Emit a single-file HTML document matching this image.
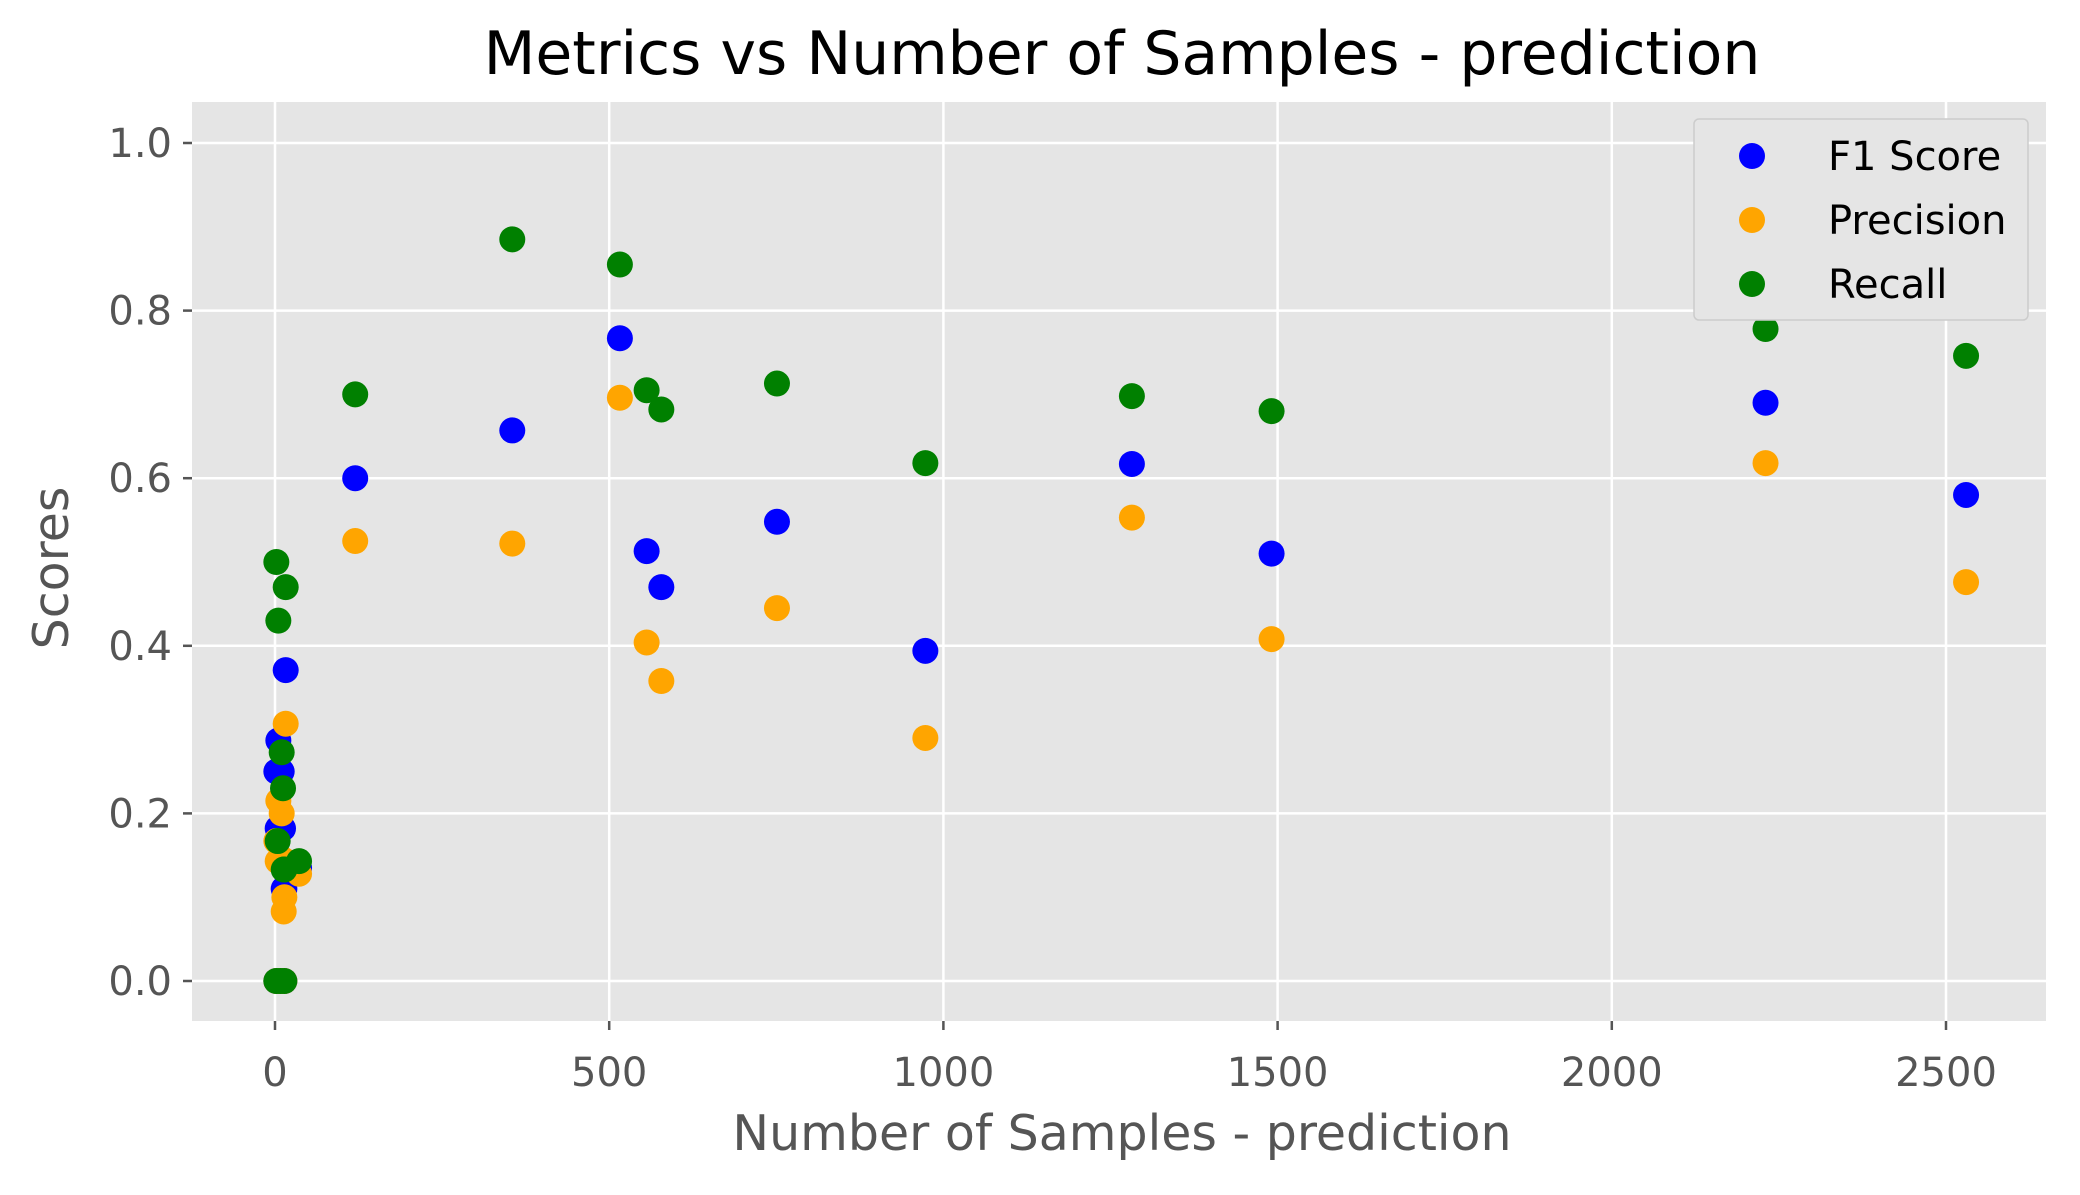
<!DOCTYPE html>
<html><head><meta charset="utf-8"><style>
body{margin:0;background:#fff;}
svg text{font-family:"DejaVu Sans","Liberation Sans",sans-serif;}
</style></head><body>
<svg id="chart" width="2080" height="1190" xmlns="http://www.w3.org/2000/svg">
<rect x="0" y="0" width="2080" height="1190" fill="#fff"/>
<rect x="192" y="102" width="1854" height="919" fill="#e5e5e5"/>
<g id="grid"></g>
<g id="ticks"></g>
<g id="points"></g>
<text x="1122" y="74" font-size="60" text-anchor="middle" fill="#000">Metrics vs Number of Samples - prediction</text>
<text x="1122" y="1150" font-size="49" text-anchor="middle" fill="#555">Number of Samples - prediction</text>
<text x="0" y="0" font-size="49" text-anchor="middle" fill="#555" transform="translate(68,568) rotate(-90)">Scores</text>
<g>
<rect x="1694" y="119" width="334" height="201" rx="5" fill="#e5e5e5" stroke="#ccc" stroke-width="1.5"/>
<circle cx="1752" cy="156" r="13" fill="blue"/>
<text x="1828" y="170" font-size="40" fill="#000">F1 Score</text>
<circle cx="1752" cy="220" r="13" fill="orange"/>
<text x="1828" y="234" font-size="40" fill="#000">Precision</text>
<circle cx="1752" cy="284" r="13" fill="green"/>
<text x="1828" y="298" font-size="40" fill="#000">Recall</text>
</g>
</svg>
<script>
const samples = [2,5,16,10,12,4,36,14,13,2,8,14,120,355,516,556,578,751,973,1282,1491,2230,2530];
const f1 = [0.25,0.287,0.371,0.25,0.182,0.182,0.135,0.11,0.11,0,0,0,0.6,0.657,0.767,0.513,0.47,0.548,0.394,0.617,0.51,0.69,0.58];
const precision = [0.167,0.215,0.307,0.2,0.145,0.143,0.128,0.1,0.083,0,0,0,0.525,0.522,0.696,0.404,0.358,0.445,0.29,0.553,0.408,0.618,0.476];
const recall = [0.5,0.43,0.47,0.273,0.23,0.167,0.143,0.133,0.133,0,0,0,0.70,0.885,0.855,0.705,0.682,0.713,0.618,0.698,0.68,0.778,0.746];
const xTicks = [0,500,1000,1500,2000,2500];
const yTicks = [0.0,0.2,0.4,0.6,0.8,1.0];
const NS="http://www.w3.org/2000/svg";
function xs(v){return 275 + v*(1946-275)/2500;}
function ys(v){return 981 - v*(981-143);}
function mk(tag,attrs,parent){const e=document.createElementNS(NS,tag);for(const k in attrs)e.setAttribute(k,attrs[k]);parent.appendChild(e);return e;}
const grid=document.getElementById('grid'), ticks=document.getElementById('ticks'), pts=document.getElementById('points');
xTicks.forEach(t=>{
  const l=mk('line',{x1:xs(t),x2:xs(t),y1:102,y2:1021,stroke:'#fff','stroke-width':2.5},grid);
  
  
  const tk=mk('line',{x1:xs(t),x2:xs(t),y1:1021,y2:1030,stroke:'#555','stroke-width':2.5},ticks);
  
  
  const tx=mk('text',{x:xs(t),y:1086,'font-size':40,'text-anchor':'middle',fill:'#555'},ticks);
  tx.textContent=t;
  
  
});
yTicks.forEach(t=>{
  const l=mk('line',{x1:192,x2:2046,y1:ys(t),y2:ys(t),stroke:'#fff','stroke-width':2.5},grid);
  
  
  const tk=mk('line',{x1:183,x2:192,y1:ys(t),y2:ys(t),stroke:'#555','stroke-width':2.5},ticks);
  
  
  const tx=mk('text',{x:172,y:ys(t)+14,'font-size':40,'text-anchor':'end',fill:'#555'},ticks);
  tx.textContent=t.toFixed(1);
  
  
});
[[f1,'blue','f1'],[precision,'orange','precision'],[recall,'green','recall']].forEach(([arr,c,n])=>{
  arr.forEach((v,i)=>{
    const p=mk('circle',{cx:xs(samples[i]),cy:ys(v),r:13,fill:c},pts);
    
    
  });
});
</script>
</body></html>
